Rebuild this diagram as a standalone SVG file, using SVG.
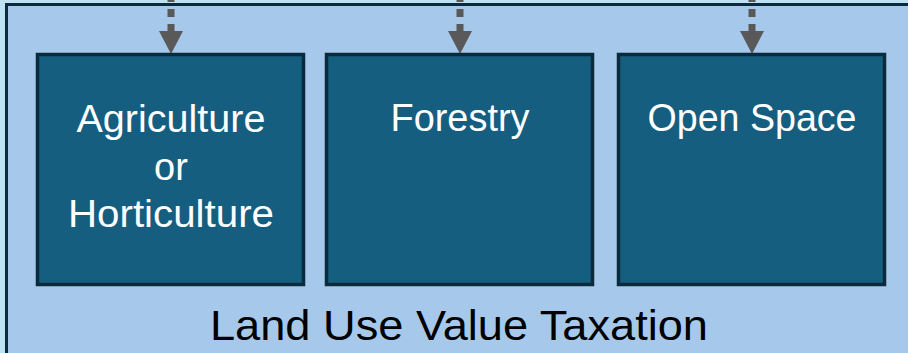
<svg xmlns="http://www.w3.org/2000/svg" width="908" height="353" viewBox="0 0 908 353">
  <style>
    .box { fill: #165e80; stroke: #0b2a3c; stroke-width: 3.5; }
    .lbl { font-family: "Liberation Sans", "Noto Sans", Arial, sans-serif; font-size: 38px; fill: #ffffff; text-anchor: middle; }
    .title { font-family: "Liberation Sans", "Noto Sans", Arial, sans-serif; font-size: 43px; fill: #000000; text-anchor: middle; }
    .conn { stroke: #595959; stroke-width: 7; fill: none; stroke-dasharray: 8 7; }
    .head { fill: #595959; }
  </style>
  <rect x="0" y="0" width="908" height="353" fill="#bfe2f3"/>
  <g id="container">
    <rect x="6.5" y="4.5" width="920" height="370" fill="#a6c9eb" stroke="#0b2a3c" stroke-width="3"/>
    <text class="title" x="459" y="340" textLength="498" lengthAdjust="spacingAndGlyphs">Land Use Value Taxation</text>
  </g>
  <g id="connectors">
    <line class="conn" x1="171" y1="-6" x2="171" y2="32"/>
    <path class="head" d="M159,31 L183,31 L171,54 Z"/>
    <line class="conn" x1="460" y1="-6" x2="460" y2="32"/>
    <path class="head" d="M448,31 L472,31 L460,54 Z"/>
    <line class="conn" x1="752" y1="-6" x2="752" y2="32"/>
    <path class="head" d="M740,31 L764,31 L752,54 Z"/>
  </g>
  <g id="agriculture">
    <rect class="box" x="37.5" y="54.5" width="266" height="230"/>
    <text class="lbl" x="171" y="132" textLength="189" lengthAdjust="spacingAndGlyphs">Agriculture</text>
    <text class="lbl" x="171" y="180">or</text>
    <text class="lbl" x="171" y="227" textLength="206" lengthAdjust="spacingAndGlyphs">Horticulture</text>
  </g>
  <g id="forestry">
    <rect class="box" x="326.5" y="54.5" width="266" height="230"/>
    <text class="lbl" x="460" y="131" textLength="139" lengthAdjust="spacingAndGlyphs">Forestry</text>
  </g>
  <g id="open-space">
    <rect class="box" x="618.5" y="54.5" width="266" height="230"/>
    <text class="lbl" x="752" y="131" textLength="209" lengthAdjust="spacingAndGlyphs">Open Space</text>
  </g>
</svg>
